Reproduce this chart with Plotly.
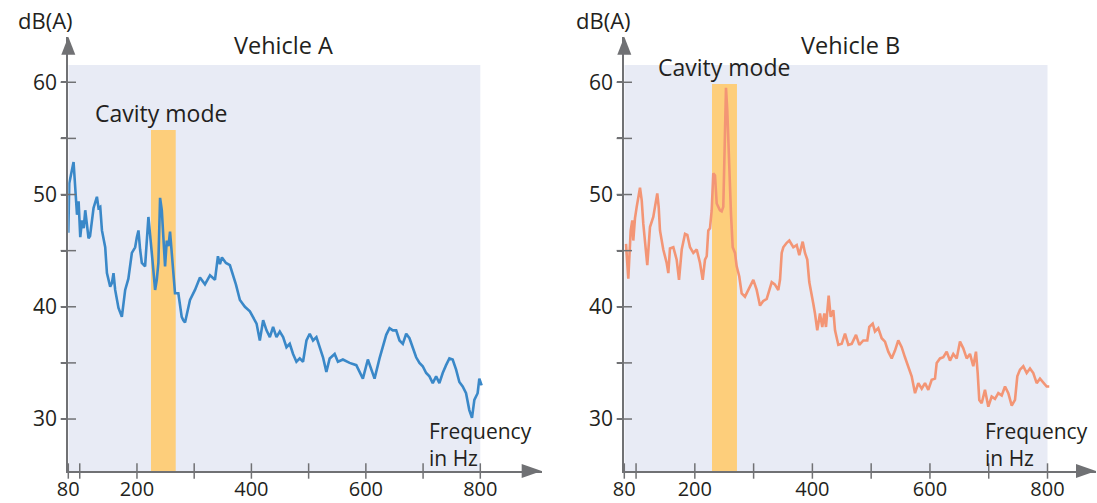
import plotly.graph_objects as go

# ---------------- data ----------------
freq_a = [80, 81.7, 89.2, 95.2, 98.0, 100.9, 103.9, 107, 109.6, 112.6, 115.4, 118, 124.1, 130.0, 132.8,
          135.8, 138.8, 144.5, 147.5, 153.2, 156.2, 159.0, 161.9, 167.7, 173.6, 179.4, 185, 191.1, 196.8,
          199.8, 202.6, 205.5, 208.5, 214.2, 220.0, 225.9, 231.7, 234.6, 237.4, 240.4, 243.4, 249.1, 252.1,
          255, 257.8, 260.8, 266.5, 272.3, 278.2, 281.0, 284.0, 292.7, 301.4, 310.1, 318.8, 327.6, 336.3,
          341.5, 345.0, 348.5, 355.5, 362.4, 372.9, 379.9, 388.6, 397.3, 403.0, 409.0, 414.7, 420.5, 426.4,
          432.2, 437.9, 443.8, 449.6, 455.4, 461.3, 467.0, 472.8, 478.7, 484.5, 490.2, 496.2, 501.9, 507.7,
          513.6, 519.3, 525.1, 531.0, 536.8, 545.5, 551.2, 559.9, 571.6, 583.3, 594.8, 603.5, 609.5, 615.2,
          623.9, 629.7, 635.6, 641.4, 647.1, 653.0, 658.8, 664.6, 670.5, 676.2, 682.0, 687.9, 693.7, 699.4,
          705.4, 711.1, 716.9, 722.8, 728.5, 734.3, 740.2, 746.0, 751.7, 757.7, 763.4, 769.2, 775.1, 780.8,
          785.5, 789.6, 795.3, 798.3, 802.3]
db_a = [46.6, 51.0, 52.9, 48.2, 49.4, 46.2, 47.7, 47.0, 48.6, 47.1, 46.1, 46.3, 48.8, 49.8, 48.8,
        48.9, 46.8, 45.3, 43.0, 41.8, 42.1, 43.0, 41.5, 39.9, 39.1, 41.5, 42.5, 44.8, 45.3,
        46.2, 46.8, 45.1, 43.9, 43.6, 48.0, 44.8, 41.5, 42.4, 43.9, 49.7, 48.6, 43.6, 45.9,
        45.4, 46.7, 44.8, 41.2, 41.2, 39.1, 38.8, 38.6, 40.6, 41.5, 42.6, 42.0, 42.8, 42.4,
        44.5, 43.8, 44.4, 43.9, 43.7, 42.0, 40.6, 40.0, 39.6, 39.0, 38.5, 37.0, 38.8, 37.9,
        37.3, 38.2, 37.3, 37.8, 37.3, 36.4, 36.7, 35.8, 35.1, 35.4, 35.1, 37.0, 37.6, 37.0,
        37.3, 36.4, 35.5, 34.2, 35.4, 35.8, 35.1, 35.3, 35.0, 34.8, 33.6, 35.3, 34.4, 33.6,
        35.4, 36.4, 37.5, 38.1, 37.9, 37.9, 37.0, 36.7, 37.6, 37.2, 36.4, 35.5, 35.0, 34.7,
        34.1, 33.8, 33.2, 33.8, 33.2, 34.1, 34.8, 35.4, 35.3, 34.4, 33.3, 32.9, 32.3, 30.8,
        30.1, 31.7, 32.3, 33.6, 33.0]

freq_b = [82.9, 86.8, 90.9, 93.6, 95.3, 98.2, 101.1, 106.7, 109.6, 112.3, 119.1, 123.7, 129.3, 132.2,
          136.1, 138.5, 140.7, 146.3, 152.1, 154.9, 157.7, 163.4, 169.1, 173.1, 177.7, 183.3, 187.2,
          191.8, 197.4, 203.2, 208.8, 213.4, 217.3, 220.2, 222.9, 225.8, 228.7, 231.4, 234.3, 237.2,
          239.9, 242.8, 245.7, 248.4, 249.6, 251.3, 253.0, 255.2, 258.1, 261.5, 264.4, 268.3, 271.2,
          275.6, 279.7, 285.3, 291.0, 299.5, 305.2, 310.9, 316, 322.3, 330.8, 336, 342.0, 344.9, 347.8,
          350.5, 356.3, 360.7, 367.5, 373.3, 377.7, 383.5, 387.4, 391.3, 394.7, 398.8, 401.5, 404.4,
          408.3, 412.9, 416.8, 420.3, 423.1, 427.7, 431.1, 435.6, 438.5, 444.1, 449.9, 455.5, 461.1,
          466.9, 474.2, 479.8, 486.6, 493.4, 496.8, 502.6, 506.5, 512.1, 517.9, 523.5, 529.1, 534.9,
          540.5, 546.1, 551.9, 557.5, 563.2, 568.9, 574.6, 580.2, 586.0, 591.6, 597.2, 603.0, 608.6,
          611.5, 617.1, 622.7, 628.5, 634.1, 639.7, 645.5, 651.1, 656.7, 662.5, 668.1, 673.7, 678.3,
          681.2, 683.9, 688.0, 693.6, 699.3, 705.0, 710.7, 716.3, 722.1, 727.7, 733.3, 739.1, 744.7,
          748.6, 753.2, 758.8, 764.6, 770.2, 775.8, 781.6, 787.2, 792.8, 798.6, 803.0]
db_b = [45.6, 42.5, 46.8, 47.7, 45.9, 47.9, 48.9, 50.6, 49.5, 47.4, 43.7, 47.1, 48.0, 48.9,
        50.1, 48.9, 46.8, 45.1, 43.9, 43.0, 45.2, 45.3, 44.2, 42.4, 45.1, 46.5, 46.4,
        45.3, 44.8, 45.1, 43.9, 42.4, 44.2, 44.5, 46.8, 47.0, 48.6, 51.9, 51.7, 49.2,
        48.9, 48.6, 48.5, 48.9, 51.6, 56.6, 59.5, 57.5, 52.2, 48.3, 45.3, 44.8, 43.6,
        42.7, 41.2, 40.9, 41.5, 42.4, 41.5, 40.1, 40.5, 40.7, 42.2, 42.0, 41.5, 42.4, 44.8,
        45.3, 45.7, 45.9, 45.3, 45.5, 44.6, 45.8, 44.8, 44.2, 42.2, 41.2, 40.3, 39.4,
        37.9, 39.4, 38.2, 39.4, 38.2, 41.0, 39.1, 39.7, 37.9, 36.6, 36.7, 37.6, 36.6,
        36.7, 37.5, 36.6, 37.0, 37.0, 38.2, 38.5, 37.8, 38.1, 37.2, 36.9, 36.0, 35.4,
        36.1, 37.0, 36.4, 35.5, 34.7, 33.8, 32.3, 33.2, 32.7, 33.2, 32.6, 33.5, 33.6,
        35.0, 35.4, 35.5, 36.0, 35.2, 35.8, 35.4, 36.9, 36.3, 35.4, 35.8, 34.7, 36.0,
        34.1, 31.7, 31.4, 32.6, 31.1, 32.0, 31.8, 32.3, 32.1, 32.9, 32.3, 31.2, 31.7,
        33.8, 34.4, 34.7, 34.1, 34.5, 34.1, 33.2, 33.6, 33.3, 32.9, 32.9]

x_tickvals = [80, 100, 200, 300, 400, 500, 600, 700, 800]
x_ticktext = ["80", "", "200", "", "400", "", "600", "", "800"]
y_tickvals = [30, 35, 40, 45, 50, 55, 60]
y_ticktext = ["30", "", "40", "", "50", "", "60"]

panel_titles = ["Vehicle A", "Vehicle B"]
cavity_a = [224.5, 267.7, 55.75]   # x0, x1, top
cavity_b = [229.2, 271.7, 59.85]

# ---------------- style ----------------
W, H = 1097, 503
AXIS = "#707174"
TEXT = "#231F20"
BG = "#E8EBF5"
BAND = "#FDCE7B"
BLUE = "#3A88C8"
ORANGE = "#F39575"
FONT = "Open Sans"

Y_MIN, Y_MAX = 25.37, 64.06
BG_TOP = 61.54
FREQ_MIN, FREQ_MAX = 80, 800

fig = go.Figure()

def px_x(p):
    return p / W

def px_y(p):
    return (H - p) / H

Y_DOM = [px_y(471), px_y(36.7)]

panels = [
    dict(xa="x", ya="y", xr=[80, 907.3], dom=[68.3, 541.7], freq=freq_a, db=db_a, col=BLUE,
         cav=cavity_a, title=panel_titles[0], tx=283, cm=(161, 113), fx=427, dbx=45),
    dict(xa="x2", ya="y2", xr=[80, 882.5], dom=[624.3, 1096.0], freq=freq_b, db=db_b, col=ORANGE,
         cav=cavity_b, title=panel_titles[1], tx=850, cm=(724, 67), fx=983, dbx=603),
]

shapes = []
annotations = []

def txt(text, x, y, size, xanchor="center"):
    return dict(text=text, x=px_x(x), y=px_y(y), xref="paper", yref="paper", showarrow=False,
                xanchor=xanchor, yanchor="middle", align="left",
                font=dict(size=size, color=TEXT, family=FONT))

for i, p in enumerate(panels):
    sfx = "" if i == 0 else str(i + 1)
    # data line
    fig.add_trace(go.Scatter(x=p["freq"], y=p["db"], mode="lines",
                             line=dict(color=p["col"], width=2.6),
                             xaxis=p["xa"], yaxis=p["ya"], showlegend=False, hoverinfo="skip"))
    # crossing tick marks
    fig.add_trace(go.Scatter(x=x_tickvals, y=[Y_MIN] * len(x_tickvals), mode="markers",
                             marker=dict(symbol="line-ns-open", size=11, color=AXIS,
                                         line=dict(color=AXIS, width=1.5)),
                             xaxis=p["xa"], yaxis=p["ya"], showlegend=False, cliponaxis=False,
                             hoverinfo="skip"))
    fig.add_trace(go.Scatter(x=[FREQ_MIN] * len(y_tickvals), y=y_tickvals, mode="markers",
                             marker=dict(symbol="line-ew-open", size=11, color=AXIS,
                                         line=dict(color=AXIS, width=1.5)),
                             xaxis=p["xa"], yaxis=p["ya"], showlegend=False, cliponaxis=False,
                             hoverinfo="skip"))
    # background and band
    shapes.append(dict(type="rect", xref=p["xa"], yref=p["ya"], x0=FREQ_MIN, x1=FREQ_MAX,
                       y0=Y_MIN, y1=BG_TOP, fillcolor=BG, line=dict(width=0), layer="below"))
    shapes.append(dict(type="rect", xref=p["xa"], yref=p["ya"], x0=p["cav"][0], x1=p["cav"][1],
                       y0=Y_MIN, y1=p["cav"][2], fillcolor=BAND, line=dict(width=0), layer="below"))
    # arrow heads (paper-referenced so they are not clipped)
    shapes.append(dict(type="path", xref="paper", yref="paper", xsizemode="pixel", ysizemode="pixel",
                       xanchor=px_x(p["dom"][1]), yanchor=Y_DOM[0], path="M0,0 L-20,7 L-20,-7 Z",
                       fillcolor=AXIS, line=dict(width=0)))
    shapes.append(dict(type="path", xref="paper", yref="paper", xsizemode="pixel", ysizemode="pixel",
                       xanchor=px_x(p["dom"][0]), yanchor=Y_DOM[1], path="M0,0 L-7,-18 L7,-18 Z",
                       fillcolor=AXIS, line=dict(width=0)))
    # texts
    annotations.append(txt("dB(A)", p["dbx"], 20, 22))
    annotations.append(txt(p["title"], p["tx"], 45, 23.5))
    annotations.append(txt("Cavity mode", p["cm"][0], p["cm"][1], 23))
    annotations.append(txt("Frequency<br>in Hz", p["fx"], 444.5, 21, "left"))

    xaxis = dict(domain=[px_x(p["dom"][0]), px_x(p["dom"][1])], range=p["xr"], showgrid=False,
                 zeroline=False, showline=True, linecolor=AXIS, linewidth=2, automargin=False,
                 tickmode="array", tickvals=x_tickvals, ticktext=x_ticktext,
                 ticks="", ticklabelstandoff=-1,
                 tickfont=dict(size=20, color=TEXT, family=FONT), anchor=p["ya"], fixedrange=True)
    yaxis = dict(domain=Y_DOM, range=[Y_MIN, Y_MAX], showgrid=False,
                 zeroline=False, showline=True, linecolor=AXIS, linewidth=2, automargin=False,
                 tickmode="array", tickvals=y_tickvals, ticktext=y_ticktext,
                 ticks="outside", ticklen=5, tickwidth=1.5, tickcolor=AXIS,
                 tickfont=dict(size=21, color=TEXT, family=FONT), anchor=p["xa"], fixedrange=True)
    fig.update_layout(**{"xaxis" + sfx: xaxis, "yaxis" + sfx: yaxis})

fig.update_layout(width=W, height=H, margin=dict(l=0, r=0, t=0, b=0, autoexpand=False),
                  paper_bgcolor="white", plot_bgcolor="rgba(0,0,0,0)",
                  shapes=shapes, annotations=annotations, showlegend=False,
                  font=dict(family=FONT, color=TEXT))

fig.write_html("out.html", config={"displayModeBar": False},
               post_script="document.body.style.margin='0px';")
